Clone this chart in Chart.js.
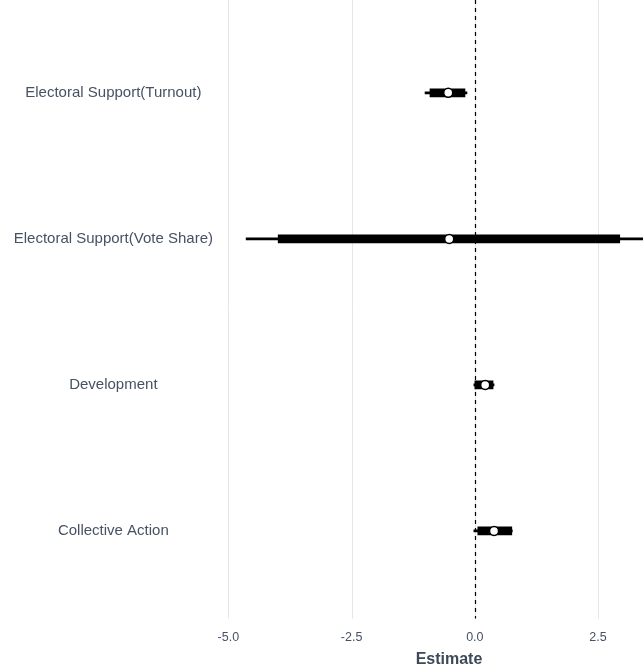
<!DOCTYPE html>
<html>
<head>
<meta charset="utf-8">
<script src="https://cdn.jsdelivr.net/npm/chart.js@4/dist/chart.umd.min.js"></script>
<style>
  html, body { margin: 0; padding: 0; background: #ffffff; }
  #wrap { width: 643px; height: 672px; }
</style>
</head>
<body>
<div id="wrap"><canvas id="c" width="643" height="672"></canvas></div>
<script>
// Outcomes (top to bottom)
const categories = [
  'Electoral Support(Turnout)',
  'Electoral Support(Vote Share)',
  'Development',
  'Collective Action'
];
// Point estimates
const estimate = [-0.54, -0.52, 0.21, 0.39];
// Outer (thin) interval
const outerLow  = [-1.01, -4.64, -0.02, -0.02];
const outerHigh = [-0.16,  3.90,  0.39,  0.76];
// Inner (thick) interval
const innerLow  = [-0.91, -3.99, 0.00, 0.06];
const innerHigh = [-0.20,  2.94, 0.37, 0.75];
// x-axis tick values
const xTicks = [-5.0, -2.5, 0.0, 2.5];
const xTitle = 'Estimate';

const textColor = '#465264';

const rowPos = categories.map((_, i) => i + 1);

// vertical grid lines and the dashed reference line at zero, full panel height
const panelLines = {
  id: 'panelLines',
  beforeDatasetsDraw(chart) {
    const { ctx, chartArea, scales } = chart;
    ctx.save();
    ctx.strokeStyle = '#e6e6e6';
    ctx.lineWidth = 1;
    xTicks.forEach(v => {
      const x = Math.round(scales.x.getPixelForValue(v)) + 0.5;
      ctx.beginPath();
      ctx.moveTo(x, 0);
      ctx.lineTo(x, chartArea.bottom);
      ctx.stroke();
    });
    const x0 = Math.round(scales.x.getPixelForValue(0)) + 0.5;
    ctx.strokeStyle = '#000000';
    ctx.lineWidth = 1.2;
    ctx.setLineDash([4, 4]);
    ctx.beginPath();
    ctx.moveTo(x0, 0);
    ctx.lineTo(x0, chartArea.bottom);
    ctx.stroke();
    ctx.restore();
  }
};

// x-axis title, centred on the full panel (which runs past the right edge)
const axisTitle = {
  id: 'axisTitle',
  afterDraw(chart) {
    const { ctx, chartArea } = chart;
    ctx.save();
    ctx.font = 'bold 16px "Liberation Sans", Arial, sans-serif';
    ctx.fillStyle = '#3d4858';
    ctx.textAlign = 'center';
    ctx.textBaseline = 'middle';
    ctx.fillText(xTitle, (chartArea.left + chartArea.right) / 2 + 20, chart.height - 12);
    ctx.restore();
  }
};

new Chart(document.getElementById('c'), {
  type: 'bar',
  data: {
    datasets: [
      {
        type: 'bar',
        data: rowPos.map((y, i) => ({ x: [outerLow[i], outerHigh[i]], y })),
        backgroundColor: '#000000',
        barThickness: 2,
        grouped: false,
        clip: false,
        order: 3
      },
      {
        type: 'bar',
        data: rowPos.map((y, i) => ({ x: [innerLow[i], innerHigh[i]], y })),
        backgroundColor: '#000000',
        barThickness: 8,
        grouped: false,
        order: 2
      },
      {
        type: 'scatter',
        data: rowPos.map((y, i) => ({ x: estimate[i], y })),
        pointRadius: 4.5,
        pointBackgroundColor: '#ffffff',
        pointBorderColor: '#000000',
        pointBorderWidth: 1.5,
        order: 1
      }
    ]
  },
  options: {
    indexAxis: 'y',
    responsive: false,
    animation: false,
    layout: { padding: { left: 12, right: 0, top: 0, bottom: 0 } },
    plugins: {
      legend: { display: false },
      tooltip: { enabled: false }
    },
    scales: {
      x: {
        type: 'linear',
        offset: false,
        min: -5.15,
        max: 3.29,
        afterBuildTicks(scale) { scale.ticks = xTicks.map(v => ({ value: v })); },
        afterFit(scale) { scale.height = 53.5; },
        grid: { display: false, drawTicks: false, offset: false },
        border: { display: false },
        ticks: {
          padding: 12,
          color: textColor,
          font: { family: 'Liberation Sans', size: 12.5 },
          callback: v => v.toFixed(1)
        },
        title: { display: false }
      },
      y: {
        type: 'linear',
        offset: false,
        reverse: true,
        min: 0.405,
        max: 4.6,
        afterBuildTicks(scale) { scale.ticks = rowPos.map(v => ({ value: v })); },
        afterFit(scale) { scale.width = 209; scale.paddingTop = 0; scale.paddingBottom = 0; },
        grid: { display: false, drawTicks: false, offset: false },
        border: { display: false },
        ticks: {
          crossAlign: 'center',
          padding: 8,
          color: textColor,
          font: { family: 'Liberation Sans', size: 15 },
          callback: v => categories[v - 1]
        }
      }
    }
  },
  plugins: [panelLines, axisTitle]
});
</script>
</body>
</html>
